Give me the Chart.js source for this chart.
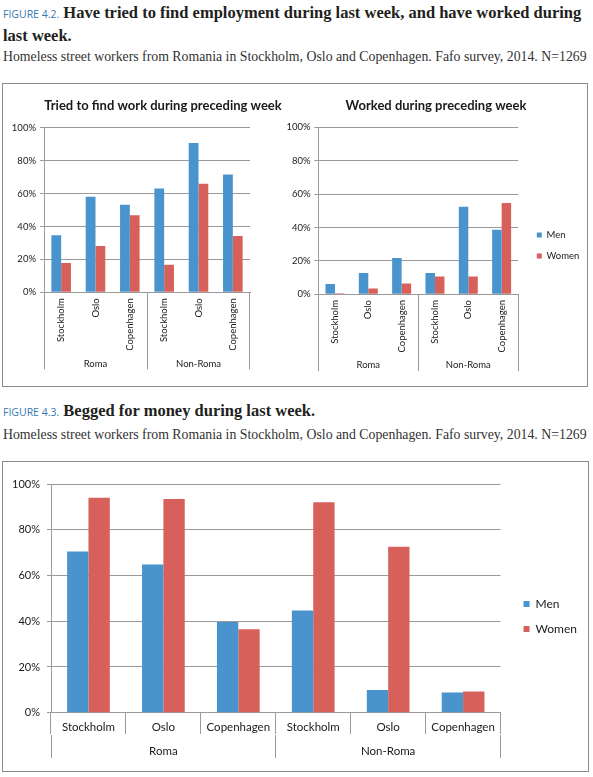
<!DOCTYPE html>
<html>
<head>
<meta charset="utf-8">
<title>Figures 4.2 and 4.3</title>
<script src="https://cdn.jsdelivr.net/npm/chart.js@4.4.1/dist/chart.umd.min.js"></script>
<style>
  body { margin: 0; width: 593px; height: 777px; position: relative; overflow: hidden; background: #fff; }
  .hd { position: absolute; left: 3px; font-family: "Liberation Serif", serif; font-weight: bold; font-size: 16.5px; line-height: 22px; color: #231f20; white-space: nowrap; }
  .fig { font-family: "Open Sans", sans-serif; font-weight: normal; font-size: 10.5px; color: #3a78b5; }
  .sub { position: absolute; left: 3px; font-family: "Liberation Serif", serif; font-size: 13.8px; line-height: 18px; color: #333; white-space: nowrap; }
  .box { position: absolute; left: 2px; width: 586px; box-sizing: border-box; border: 1px solid #8c8c8c; }
  canvas { position: absolute; }
</style>
</head>
<body>
<div class="hd" style="top:2px"><span class="fig">FIGURE 4.2.</span> Have tried to find employment during last week, and have worked during<br>last week.</div>
<div class="sub" style="top:48px">Homeless street workers from Romania in Stockholm, Oslo and Copenhagen. Fafo survey, 2014. N=1269</div>
<div class="box" style="top:83px;height:304px"></div>
<canvas id="tried" width="320" height="297" style="left:3px;top:97px"></canvas>
<canvas id="worked" width="302" height="297" style="left:285px;top:97px"></canvas>

<div class="hd" style="top:400px"><span class="fig">FIGURE 4.3.</span> Begged for money during last week.</div>
<div class="sub" style="top:426px">Homeless street workers from Romania in Stockholm, Oslo and Copenhagen. Fafo survey, 2014. N=1269</div>
<div class="box" style="top:461px;height:311px;width:587px"></div>
<canvas id="begged" width="584" height="307" style="left:3px;top:463px"></canvas>

<script>
var cities = ['Stockholm', 'Oslo', 'Copenhagen', 'Stockholm', 'Oslo', 'Copenhagen'];
var groups = ['Roma', 'Non-Roma'];
var seriesNames = ['Men', 'Women'];
var yTickLabels = ['0%', '20%', '40%', '60%', '80%', '100%'];

// share in percent
var triedMen = [34.6, 58.1, 53.2, 63, 90.7, 71.5];
var triedWomen = [17.8, 28.1, 46.8, 16.8, 66, 34.2];
var workedMen = [6.2, 12.8, 21.8, 12.8, 52.5, 38.7];
var workedWomen = [0.6, 3.4, 6.4, 10.6, 10.6, 54.7];
var beggedMen = [70.5, 64.8, 39.7, 44.7, 9.9, 8.8];
var beggedWomen = [94, 93.4, 36.5, 92, 72.6, 9.3];

var FONT = 'Lato, "Open Sans", sans-serif';
var GRID = '#9a9a9a';
var INK = '#1a1a1a';
var BLUE = '#4a94cd';
var RED = '#d8605b';

function barSets(men, women) {
    return [
        { label: seriesNames[0], data: men, backgroundColor: BLUE, borderWidth: 0,
          categoryPercentage: 0.57, barPercentage: 1, xAxisID: 'x', yAxisID: 'y' },
        { label: seriesNames[1], data: women, backgroundColor: RED, borderWidth: 0,
          categoryPercentage: 0.57, barPercentage: 1, xAxisID: 'x', yAxisID: 'y' }
    ];
}

// percent axis, width fixed so the plot edges line up with the picture
function valueAxis(size, width, pad) {
    return {
        min: 0, max: 100,
        ticks: { stepSize: 20, padding: pad, color: INK, font: { family: FONT, size: size },
                 callback: function (v, i) { return yTickLabels[i]; } },
        grid: { color: GRID, tickLength: 4 },
        border: { color: GRID },
        afterFit: function (s) { s.width = width; }
    };
}

// city row; separators only where a group starts / ends when onlyGroups
function cityAxis(size, rot, tl, pad, h, onlyGroups) {
    return {
        type: 'category', offset: true,
        grid: {
            offset: true, drawOnChartArea: false, tickLength: tl,
            color: function (c) {
                if (!onlyGroups || c.type !== 'tick' || c.index % 3 === 0) return GRID;
                return 'rgba(0,0,0,0)';
            }
        },
        border: { color: GRID },
        ticks: { autoSkip: false, minRotation: rot, maxRotation: rot, padding: pad, color: INK,
                 font: { family: FONT, size: size } },
        afterFit: function (s) { s.height = h; }
    };
}

// Roma / Non-Roma row under the cities
function groupAxis(size, tl, pad, h) {
    return {
        type: 'category', labels: groups, offset: true, position: 'bottom', weight: 1,
        grid: { offset: true, display: tl > 0, drawTicks: tl > 0, drawOnChartArea: false,
                tickLength: tl, color: GRID },
        border: { display: false },
        ticks: { autoSkip: false, minRotation: 0, maxRotation: 0, padding: pad, color: INK,
                 font: { family: FONT, size: size } },
        afterFit: function (s) { s.height = h; }
    };
}

// empty strip beside the plot (space before the legend, or above the plot)
function gapAxis(position, size) {
    return {
        type: 'linear', position: position, display: true,
        grid: { display: false, drawTicks: false }, border: { display: false },
        ticks: { display: false },
        afterFit: function (s) {
            if (position === 'top') s.height = size; else s.width = size;
        }
    };
}

function chartTitle(text, bottom) {
    return { display: true, text: text, color: INK, padding: { top: 1.2, bottom: bottom },
             font: { family: FONT, size: 13, weight: 'bold' } };
}

new Chart(document.getElementById('tried'), {
    type: 'bar',
    data: { labels: cities, datasets: barSets(triedMen, triedWomen) },
    options: {
        responsive: false,
        animation: false,
        plugins: {
            legend: { display: false },
            tooltip: { enabled: false },
            title: chartTitle('Tried to find work during preceding week', 13.9)
        },
        scales: {
            y: valueAxis(9.5, 41, 4),
            gap: gapAxis('right', 73),
            x: cityAxis(9.5, 90, 77, -71, 58, true),
            x2: groupAxis(9.5, 0, 7.7, 43.7)
        }
    }
});

new Chart(document.getElementById('worked'), {
    type: 'bar',
    data: { labels: cities, datasets: barSets(workedMen, workedWomen) },
    options: {
        responsive: false,
        animation: false,
        plugins: {
            legend: {
                position: 'right', maxWidth: 61.7,
                labels: { boxWidth: 5, boxHeight: 5, padding: 11.5, color: INK,
                          font: { family: FONT, size: 9.5 } }
            },
            tooltip: { enabled: false },
            title: chartTitle('Worked during preceding week', 13.5)
        },
        scales: {
            y: valueAxis(9.5, 33.3, 3.6),
            gap: gapAxis('right', 7),
            x: cityAxis(9.5, 90, 76.7, -71, 58, true),
            x2: groupAxis(9.5, 0, 6.7, 41.7)
        }
    }
});

new Chart(document.getElementById('begged'), {
    type: 'bar',
    data: { labels: cities, datasets: barSets(beggedMen, beggedWomen) },
    options: {
        responsive: false,
        animation: false,
        plugins: {
            legend: {
                position: 'right', maxWidth: 77,
                labels: { boxWidth: 6, boxHeight: 6, padding: 13, color: INK,
                          font: { family: FONT, size: 12 } }
            },
            tooltip: { enabled: false }
        },
        scales: {
            y: valueAxis(11, 48, 7),
            gap: gapAxis('right', 10),
            top: gapAxis('top', 21),
            x: cityAxis(11.5, 0, 21.3, -13.2, 22, false),
            x2: groupAxis(11.5, 23.3, -13.2, 35.3)
        }
    }
});
</script>
</body>
</html>
